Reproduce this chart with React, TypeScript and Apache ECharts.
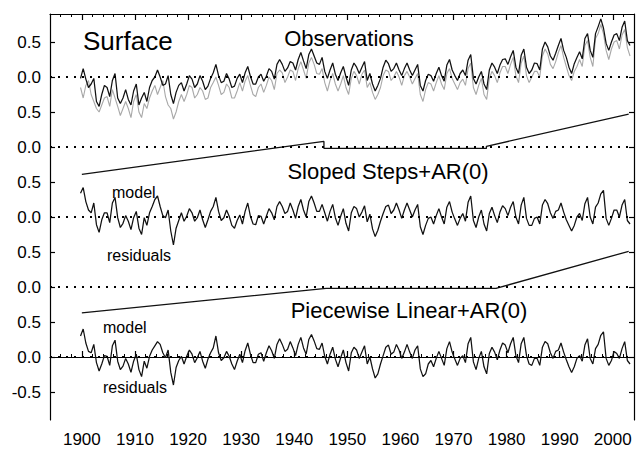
import React, { useEffect, useRef } from "react";
import * as echarts from "echarts";

// ---- data, 1900-2003 ----
// annual level and one intra-year spike value per year, for each curve
const startYear = 1900;

const obsBlack = [
  -0.02, -0.03, -0.10, -0.35, -0.25, -0.15, -0.05, -0.30, -0.30, -0.32,
  -0.20, -0.40, -0.22, -0.15, 0.00, 0.00, -0.10, -0.25, -0.22, -0.08,
  -0.10, -0.03, -0.10, -0.06, -0.13, 0.06, 0.02, -0.06, -0.03, -0.13,
  0.04, 0.06, 0.01, -0.10, 0.04, 0.01, 0.08, 0.18, 0.18, 0.13,
  0.20, 0.25, 0.23, 0.32, 0.30, 0.18, 0.08, 0.10, 0.04, 0.06,
  0.00, 0.10, 0.14, 0.14, -0.05, -0.10, -0.12, 0.14, 0.19, 0.12,
  0.10, 0.12, 0.10, 0.10, -0.12, -0.05, 0.02, 0.05, 0.02, 0.17,
  0.10, -0.05, 0.10, 0.24, -0.02, 0.00, -0.10, 0.10, 0.14, 0.17,
  0.26, 0.29, 0.14, 0.31, 0.14, 0.10, 0.19, 0.40, 0.43, 0.24,
  0.45, 0.38, 0.14, 0.19, 0.36, 0.55, 0.38, 0.62, 0.83, 0.48,
  0.50, 0.62, 0.71, 0.52,
];
const obsBlackSpikes = [
  0.12, -0.15, -0.02, -0.42, -0.12, -0.28, 0.05, -0.38, -0.18, -0.40,
  -0.10, -0.30, -0.35, -0.05, 0.10, -0.12, 0.02, -0.38, -0.12, -0.20,
  0.02, -0.15, 0.02, -0.18, -0.02, 0.18, -0.08, 0.05, -0.15, -0.02,
  -0.08, 0.15, -0.10, 0.00, -0.06, 0.12, -0.03, 0.25, 0.08, 0.22,
  0.10, 0.35, 0.12, 0.40, 0.20, 0.28, -0.02, 0.20, -0.05, 0.15,
  -0.12, 0.20, 0.05, 0.22, 0.05, -0.20, -0.02, 0.24, 0.08, 0.20,
  0.02, 0.20, 0.02, 0.18, -0.20, 0.04, -0.06, 0.14, -0.06, 0.25,
  0.02, 0.05, 0.02, 0.32, -0.10, 0.08, -0.18, 0.20, 0.05, 0.25,
  0.18, 0.38, 0.05, 0.40, 0.05, 0.20, 0.10, 0.50, 0.30, 0.34,
  0.55, 0.28, 0.05, 0.28, 0.26, 0.62, 0.28, 0.72, 0.70, 0.38,
  0.60, 0.52, 0.80, 0.45,
];

const obsGray = [
  -0.15, -0.12, -0.25, -0.45, -0.40, -0.28, -0.18, -0.42, -0.45, -0.45,
  -0.35, -0.50, -0.38, -0.30, -0.12, -0.15, -0.28, -0.45, -0.50, -0.25,
  -0.25, -0.15, -0.25, -0.20, -0.30, -0.08, -0.12, -0.22, -0.15, -0.30,
  -0.08, -0.06, -0.12, -0.28, -0.10, -0.12, -0.05, 0.05, 0.06, 0.00,
  0.08, 0.12, 0.10, 0.20, 0.18, 0.04, -0.08, -0.05, -0.10, -0.10,
  -0.15, -0.02, 0.02, 0.04, -0.15, -0.22, -0.25, 0.02, 0.08, 0.00,
  0.00, 0.02, 0.00, -0.02, -0.25, -0.18, -0.10, -0.08, -0.10, 0.05,
  -0.02, -0.18, -0.03, 0.12, -0.15, -0.12, -0.25, -0.02, 0.02, 0.06,
  0.15, 0.18, 0.02, 0.20, 0.02, 0.00, 0.08, 0.30, 0.33, 0.12,
  0.35, 0.28, 0.02, 0.08, 0.25, 0.45, 0.28, 0.55, 0.75, 0.38,
  0.40, 0.52, 0.60, 0.42,
];
const obsGraySpikes = [
  -0.30, -0.05, -0.35, -0.50, -0.30, -0.42, -0.30, -0.55, -0.35, -0.58,
  -0.25, -0.58, -0.45, -0.20, -0.25, -0.05, -0.40, -0.60, -0.35, -0.35,
  -0.12, -0.30, -0.15, -0.32, -0.15, 0.00, -0.25, -0.10, -0.30, -0.20,
  -0.20, 0.02, -0.25, -0.15, -0.22, 0.00, -0.18, 0.10, -0.08, 0.10,
  -0.05, 0.22, -0.02, 0.28, 0.05, 0.12, -0.20, 0.05, -0.20, 0.02,
  -0.25, 0.08, -0.10, 0.10, -0.08, -0.32, -0.15, 0.10, -0.05, 0.08,
  -0.12, 0.08, -0.10, 0.05, -0.35, -0.08, -0.20, 0.02, -0.18, 0.12,
  -0.10, -0.08, -0.12, 0.20, -0.25, -0.02, -0.32, 0.08, -0.08, 0.15,
  0.05, 0.28, -0.08, 0.30, -0.08, 0.08, 0.00, 0.40, 0.18, 0.22,
  0.45, 0.15, -0.05, 0.15, 0.15, 0.52, 0.15, 0.62, 0.62, 0.25,
  0.50, 0.40, 0.68, 0.30,
];

const residSteps = [
  0.34, 0.22, 0.06, -0.11, -0.04, 0.06, 0.20, -0.01, -0.09, -0.06,
  -0.01, -0.16, -0.01, 0.06, 0.25, 0.15, -0.01, -0.20, -0.16, 0.06,
  0.01, 0.06, -0.01, -0.04, -0.04, 0.15, 0.08, -0.01, 0.01, -0.16,
  0.03, 0.08, 0.01, -0.11, 0.01, 0.01, 0.06, 0.15, 0.15, 0.08,
  0.10, 0.15, 0.10, 0.22, 0.20, 0.08, 0.06, 0.08, -0.01, 0.01,
  -0.09, 0.06, 0.12, 0.07, -0.07, -0.17, -0.19, 0.05, 0.17, 0.10,
  0.10, 0.10, 0.10, 0.10, -0.14, -0.12, 0.00, 0.02, 0.00, 0.14,
  0.07, -0.12, 0.05, 0.21, -0.05, 0.00, -0.10, 0.05, 0.02, 0.07,
  0.12, 0.14, 0.00, 0.17, -0.02, -0.12, 0.00, 0.17, 0.19, -0.02,
  0.10, 0.07, -0.12, -0.12, 0.05, 0.19, 0.00, 0.14, 0.33, -0.02,
  -0.02, 0.10, 0.17, -0.05,
];
const residStepsSpikes = [
  0.42, 0.10, 0.20, -0.22, 0.06, -0.08, 0.28, -0.15, 0.02, -0.18,
  0.08, -0.25, -0.12, 0.15, 0.30, 0.02, 0.10, -0.40, -0.05, -0.06,
  0.12, -0.06, 0.10, -0.15, 0.08, 0.28, -0.05, 0.10, -0.12, -0.05,
  -0.10, 0.20, -0.10, 0.02, -0.10, 0.12, -0.04, 0.22, 0.05, 0.20,
  -0.02, 0.25, 0.00, 0.30, 0.08, 0.18, -0.06, 0.18, -0.12, 0.12,
  -0.20, 0.15, 0.00, 0.16, 0.04, -0.28, -0.06, 0.15, 0.05, 0.20,
  -0.02, 0.20, 0.00, 0.18, -0.25, -0.02, -0.10, 0.12, -0.10, 0.22,
  -0.03, -0.02, -0.06, 0.30, -0.15, 0.10, -0.20, 0.14, -0.08, 0.16,
  0.02, 0.22, -0.10, 0.28, -0.12, -0.02, -0.10, 0.25, 0.06, 0.08,
  0.20, -0.04, -0.20, 0.00, -0.05, 0.28, -0.10, 0.20, 0.38, -0.12,
  0.10, 0.00, 0.25, -0.10,
];

const residLinear = [
  0.30, 0.20, 0.06, -0.08, -0.10, 0.01, 0.16, -0.06, -0.13, -0.10,
  -0.06, -0.18, -0.06, 0.01, 0.16, 0.18, -0.01, -0.22, -0.15, 0.01,
  0.01, 0.04, -0.01, -0.06, -0.03, 0.13, 0.06, -0.01, 0.01, -0.18,
  0.04, 0.09, 0.04, -0.08, 0.06, 0.06, 0.09, 0.18, 0.18, 0.11,
  0.13, 0.18, 0.13, 0.25, 0.23, 0.11, 0.01, 0.04, -0.03, -0.01,
  -0.08, 0.06, 0.10, 0.07, -0.10, -0.17, -0.24, 0.02, 0.17, 0.07,
  0.10, 0.07, 0.07, 0.10, -0.17, -0.24, -0.05, -0.02, -0.02, 0.12,
  0.07, -0.12, 0.02, 0.19, -0.07, -0.02, -0.14, 0.05, 0.07, 0.10,
  0.17, 0.19, 0.02, 0.19, 0.02, -0.12, -0.02, 0.14, 0.19, -0.02,
  0.10, 0.07, -0.14, -0.14, 0.02, 0.17, -0.02, 0.12, 0.31, -0.02,
  -0.05, 0.05, 0.12, -0.05,
];
const residLinearSpikes = [
  0.40, 0.08, 0.18, -0.20, 0.02, -0.12, 0.24, -0.18, -0.02, -0.22,
  0.04, -0.28, -0.16, 0.10, 0.22, 0.06, 0.10, -0.40, -0.05, -0.10,
  0.10, -0.08, 0.08, -0.16, 0.06, 0.30, -0.05, 0.08, -0.10, -0.06,
  -0.08, 0.20, -0.08, 0.04, -0.06, 0.16, -0.02, 0.26, 0.08, 0.22,
  0.02, 0.28, 0.04, 0.32, 0.12, 0.20, -0.10, 0.14, -0.14, 0.10,
  -0.20, 0.14, -0.02, 0.16, 0.00, -0.30, -0.10, 0.14, 0.04, 0.18,
  -0.02, 0.18, -0.02, 0.16, -0.28, -0.10, -0.14, 0.08, -0.12, 0.22,
  -0.03, -0.02, -0.08, 0.28, -0.18, 0.08, -0.24, 0.14, -0.04, 0.20,
  0.06, 0.28, -0.08, 0.28, -0.10, -0.02, -0.12, 0.22, 0.06, 0.08,
  0.20, -0.04, -0.22, -0.02, -0.06, 0.26, -0.10, 0.18, 0.36, -0.12,
  0.08, -0.02, 0.22, -0.10,
];

// model break points [year, value]
const modelSteps: [number, number][] = [
  [1900, -0.39], [1945.6, 0.08], [1945.6, -0.02], [1976.2, -0.02],
  [1976.2, 0.01], [2003, 0.47],
];
const modelLinear: [number, number][] = [
  [1900, -0.37], [1946, -0.02], [1978, -0.02], [2003, 0.51],
];

// panel baselines (stacked offsets)
const offsetObs = 4;
const offsetModelSteps = 3;
const offsetResidSteps = 2;
const offsetModelLinear = 1;
const offsetResidLinear = 0;

const xDecades = [1900, 1910, 1920, 1930, 1940, 1950, 1960, 1970, 1980, 1990, 2000];
const yTickValues = [-0.5, 0, 0.5, 1, 1.5, 2, 2.5, 3, 3.5, 4, 4.5];
const yTickLabels = ["-0.5", "0.0", "0.5", "0.0", "0.5", "0.0", "0.5", "0.0", "0.5", "0.0", "0.5"];

const FONT = "'Liberation Sans', Arial, Helvetica, sans-serif";

function toSeries(vals: number[], spikes: number[], offset: number) {
  const out: number[][] = [];
  vals.forEach((v, i) => {
    out.push([startYear + i - 0.25, v + offset]);
    out.push([startYear + i + 0.25, spikes[i] + offset]);
  });
  return out;
}
function shift(pts: [number, number][], offset: number) {
  return pts.map(([x, y]) => [x, y + offset]);
}

export default function App() {
  const ref = useRef<HTMLDivElement>(null);
  useEffect(() => {
    if (!ref.current) return;
    const chart = echarts.init(ref.current, null, { renderer: "svg" });
    const axisLine = { show: true, lineStyle: { color: "#000", width: 1.2 } };
    const xBase = { type: "value", min: 1894, max: 2004, splitLine: { show: false } };
    const yBase = { type: "value", min: -0.9, max: 4.9, splitLine: { show: false } };
    const lineS = (data: any, color: string, width: number, z = 3) => ({
      type: "line",
      data,
      symbol: "none",
      lineStyle: { color, width },
      z,
      silent: true,
    });
    chart.setOption({
      animation: false,
      backgroundColor: "#fff",
      grid: { left: 50, right: 9, top: 14, bottom: 31, containLabel: false },
      xAxis: [
        { ...xBase, position: "bottom", interval: 2, axisLine,
          axisTick: { inside: true, length: 3, lineStyle: { color: "#000" } },
          axisLabel: { show: false } },
        { ...xBase, position: "bottom", axisLine: { show: false },
          axisTick: { inside: true, length: 6, customValues: xDecades, lineStyle: { color: "#000", width: 1.2 } },
          axisLabel: { customValues: xDecades, color: "#000", fontSize: 17, fontFamily: FONT, margin: 11,
            formatter: (v: number) => String(Math.round(v)) } },
        { ...xBase, position: "top", interval: 2, axisLine,
          axisTick: { inside: true, length: 3, lineStyle: { color: "#000" } },
          axisLabel: { show: false } },
        { ...xBase, position: "top", axisLine: { show: false },
          axisTick: { inside: true, length: 6, customValues: xDecades, lineStyle: { color: "#000", width: 1.2 } },
          axisLabel: { show: false } },
      ],
      yAxis: [
        { ...yBase, position: "left", axisLine,
          axisTick: { inside: true, length: 5, customValues: yTickValues, lineStyle: { color: "#000", width: 1.2 } },
          axisLabel: {
            customValues: yTickValues, color: "#000", fontSize: 17, fontFamily: FONT, margin: 9,
            formatter: (v: number) => {
              const i = yTickValues.findIndex((t) => Math.abs(t - v) < 1e-6);
              return i >= 0 ? yTickLabels[i] : "";
            },
          } },
        { ...yBase, position: "right", axisLine,
          axisTick: { inside: true, length: 5, customValues: yTickValues, lineStyle: { color: "#000", width: 1.2 } },
          axisLabel: { show: false } },
      ],
      series: [
        {
          ...lineS(toSeries(obsGray, obsGraySpikes, offsetObs), "#a8a8a8", 1.1, 2),
          markLine: {
            silent: true,
            symbol: ["none", "none"],
            label: { show: false },
            lineStyle: { color: "#000", width: 2.2, type: [2, 6] },
            data: [
              { yAxis: offsetObs }, { yAxis: offsetModelSteps }, { yAxis: offsetResidSteps },
              { yAxis: offsetModelLinear }, { yAxis: offsetResidLinear },
            ],
          },
        },
        lineS(toSeries(obsBlack, obsBlackSpikes, offsetObs), "#111", 1.25, 3),
        lineS(shift(modelSteps, offsetModelSteps), "#111", 1.3, 3),
        lineS(toSeries(residSteps, residStepsSpikes, offsetResidSteps), "#111", 1.25, 3),
        lineS(shift(modelLinear, offsetModelLinear), "#111", 1.3, 3),
        lineS(toSeries(residLinear, residLinearSpikes, offsetResidLinear), "#111", 1.25, 3),
      ],
      graphic: [
        { type: "text", left: 83, top: 28, style: { text: "Surface", font: `26px ${FONT}`, fill: "#000" } },
        { type: "text", style: { text: "Observations", x: 349, y: 38, align: "center", verticalAlign: "middle", font: `22px ${FONT}`, fill: "#000" } },
        { type: "text", style: { text: "Sloped Steps+AR(0)", x: 388, y: 171, align: "center", verticalAlign: "middle", font: `22px ${FONT}`, fill: "#000" } },
        { type: "text", style: { text: "Piecewise Linear+AR(0)", x: 409, y: 310, align: "center", verticalAlign: "middle", font: `22px ${FONT}`, fill: "#000" } },
        { type: "text", style: { text: "model", x: 112, y: 192, verticalAlign: "middle", font: `16px ${FONT}`, fill: "#000" } },
        { type: "text", style: { text: "residuals", x: 107, y: 255, verticalAlign: "middle", font: `16px ${FONT}`, fill: "#000" } },
        { type: "text", style: { text: "model", x: 103, y: 327, verticalAlign: "middle", font: `16px ${FONT}`, fill: "#000" } },
        { type: "text", style: { text: "residuals", x: 103, y: 387, verticalAlign: "middle", font: `16px ${FONT}`, fill: "#000" } },
      ],
    });
    return () => chart.dispose();
  }, []);
  return (
    <div
      ref={ref}
      style={{ position: "absolute", left: 0, top: 0, width: 643, height: 451, background: "#fff" }}
    />
  );
}
